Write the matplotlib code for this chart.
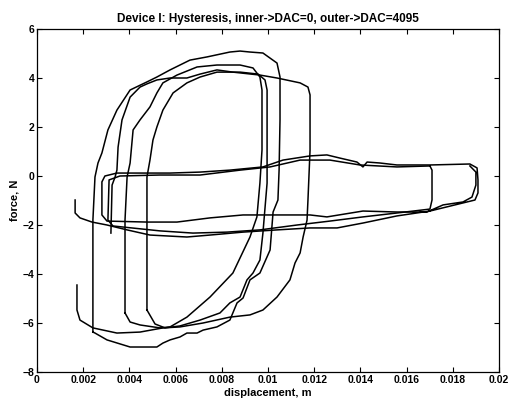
import matplotlib
matplotlib.use("Agg")
import matplotlib.pyplot as plt

plt.rcParams['font.family'] = ['Liberation Sans', 'DejaVu Sans']

# Outer runs (DAC = 4095): displacement in m, force in N
outer_x = [0.00242, 0.00242, 0.00242, 0.00242, 0.00251, 0.00264, 0.00281, 0.00307, 0.00346, 0.00403,
           0.00476, 0.00519, 0.00576, 0.00662, 0.00736, 0.00835, 0.00879, 0.00922, 0.00978, 0.01039,
           0.01052, 0.01052, 0.01048, 0.01043, 0.01022, 0.01009, 0.00965, 0.00922, 0.00892, 0.00866,
           0.00835, 0.00779, 0.00719, 0.00693, 0.00649, 0.00619, 0.00576, 0.00545, 0.00519, 0.00403,
           0.00303, 0.00251, 0.00242]
outer_y = [-6.37, -4.65, -3.02, -1.80, -0.04, 0.53, 0.94, 1.88, 2.69, 3.51,
           3.84, 4.04, 4.33, 4.73, 4.86, 5.06, 5.10, 5.06, 5.02, 4.61,
           4.04, 2.29, 0.24, -0.98, -1.47, -3.02, -3.96, -4.24, -4.98, -5.18,
           -5.88, -6.16, -6.29, -6.41, -6.41, -6.57, -6.69, -6.82, -6.98, -6.98,
           -6.69, -6.41, -6.37]

mid_x = [0.00381, 0.00381, 0.00381, 0.00390, 0.00403, 0.00416, 0.00446, 0.00489, 0.00519, 0.00545,
         0.00606, 0.00693, 0.00779, 0.00879, 0.00935, 0.00965, 0.00974, 0.00974, 0.00965, 0.00952,
         0.00922, 0.00848, 0.00749, 0.00649, 0.00576, 0.00532, 0.00446, 0.00403, 0.00381]
mid_y = [-5.59, -3.43, -1.80, -0.04, 0.53, 1.88, 2.29, 2.82, 3.39, 3.80,
         4.12, 4.45, 4.53, 4.53, 4.41, 4.04, 3.51, 1.06, -0.29, -1.67,
         -2.49, -3.96, -4.94, -5.76, -6.16, -6.20, -6.08, -5.96, -5.59]

narrow_x = [0.00476, 0.00476, 0.00476, 0.00476, 0.00489, 0.00502, 0.00519, 0.00545, 0.00589, 0.00649,
            0.00706, 0.00779, 0.00879, 0.00957, 0.00987, 0.00996, 0.00996, 0.00996, 0.00978, 0.00965,
            0.00935, 0.00909, 0.00879, 0.00835, 0.00792, 0.00706, 0.00619, 0.00554, 0.00511, 0.00476]
narrow_y = [-5.47, -3.43, -1.80, -0.04, 0.65, 1.47, 2.00, 2.69, 3.39, 3.80,
            4.04, 4.24, 4.24, 4.16, 3.92, 3.51, 1.06, -0.29, -2.33, -3.43,
            -3.96, -4.24, -4.94, -5.18, -5.59, -5.88, -6.12, -6.20, -6.04, -5.47]

start_x = [0.00173, 0.00173, 0.00186, 0.00242, 0.00346, 0.00446, 0.00545, 0.00619, 0.00719, 0.00835,
           0.00922, 0.00978, 0.01039, 0.01095, 0.01117, 0.01139, 0.01152, 0.01169, 0.01173, 0.01182,
           0.01182, 0.01173, 0.01139, 0.01039, 0.00965, 0.00848, 0.00779, 0.00706, 0.00649, 0.00576,
           0.00519, 0.00476, 0.00446, 0.00403, 0.00368, 0.00351, 0.00346, 0.00338, 0.00325, 0.00320]
start_y = [-4.45, -5.47, -5.88, -6.20, -6.41, -6.37, -6.20, -6.16, -6.00, -5.76,
           -5.67, -5.47, -4.94, -4.24, -3.55, -3.14, -2.49, -1.80, -0.98, 1.06,
           3.31, 3.63, 3.80, 4.00, 4.12, 4.24, 4.33, 4.16, 4.00, 4.00,
           3.92, 3.76, 3.63, 3.22, 2.29, 1.18, 0.24, -0.04, -0.37, -2.33]

# Inner runs (DAC = 0)
inner_x = [0.00165, 0.00165, 0.00186, 0.00238, 0.00303, 0.00390, 0.00489, 0.00649, 0.00749, 0.00892,
           0.01039, 0.01182, 0.01299, 0.01411, 0.01558, 0.01701, 0.01844, 0.01896, 0.01909, 0.01909,
           0.01905, 0.01874, 0.01701, 0.01558, 0.01485, 0.01429, 0.01411, 0.01385, 0.01312, 0.01255,
           0.01182, 0.01065, 0.00978, 0.00835, 0.00706, 0.00576, 0.00459, 0.00346, 0.00294, 0.00281,
           0.00281, 0.00303, 0.00476, 0.00606, 0.00749, 0.00892, 0.01039, 0.01182, 0.01255, 0.01411,
           0.01558, 0.01688, 0.01758, 0.01844, 0.01883, 0.01900, 0.01900, 0.01874]
inner_y = [-0.98, -1.51, -1.71, -1.88, -2.00, -2.20, -2.41, -2.49, -2.41, -2.29,
           -2.20, -2.12, -2.12, -1.92, -1.63, -1.43, -1.10, -0.98, -0.69, -0.16,
           0.33, 0.49, 0.45, 0.45, 0.53, 0.57, 0.37, 0.57, 0.73, 0.86,
           0.82, 0.65, 0.37, 0.24, 0.16, 0.12, 0.12, 0.12, 0.00, -0.24,
           -1.59, -1.84, -1.88, -1.88, -1.71, -1.59, -1.59, -1.59, -1.67, -1.43,
           -1.47, -1.47, -1.18, -1.06, -0.86, -0.37, 0.16, 0.41]

short_x = [0.01701, 0.01558, 0.01398, 0.01268, 0.01139, 0.01009, 0.00879, 0.00706, 0.00532, 0.00359,
           0.00312, 0.00307, 0.00329, 0.00532, 0.00675, 0.00823, 0.00965, 0.01126, 0.01268, 0.01411,
           0.01558, 0.01701, 0.01710, 0.01710, 0.01701]
short_y = [0.41, 0.37, 0.45, 0.65, 0.65, 0.37, 0.24, 0.04, 0.04, 0.00,
           -0.16, -1.80, -2.04, -2.24, -2.33, -2.29, -2.20, -2.00, -1.84, -1.67,
           -1.51, -1.35, -0.98, 0.24, 0.41]

x_ticks = [0, 0.002, 0.004, 0.006, 0.008, 0.01, 0.012, 0.014, 0.016, 0.018, 0.02]
x_tick_labels = ['0', '0.002', '0.004', '0.006', '0.008', '0.01', '0.012', '0.014', '0.016', '0.018', '0.02']
y_ticks = [-8, -6, -4, -2, 0, 2, 4, 6]

fig = plt.figure(figsize=(5.1, 4.05), dpi=100)
ax = fig.add_axes([37 / 510, 33 / 405, 462 / 510, 343 / 405])

runs = [(outer_x, outer_y), (mid_x, mid_y), (narrow_x, narrow_y), (start_x, start_y),
        (inner_x, inner_y), (short_x, short_y)]
for xs, ys in runs:
    ax.plot(xs, ys, color='black', linewidth=1.1, solid_joinstyle='round')

ax.set_xlim(0, 0.02)
ax.set_ylim(-8, 6)
ax.set_xticks(x_ticks)
ax.set_xticklabels(x_tick_labels)
ax.set_yticks(y_ticks)
ax.tick_params(direction='in', top=True, right=True, length=3.5, width=0.8,
               labelsize=7.5, pad=2)
for lbl in ax.get_xticklabels() + ax.get_yticklabels():
    lbl.set_fontweight('bold')
for sp in ax.spines.values():
    sp.set_linewidth(0.9)

ax.set_title('Device I: Hysteresis, inner->DAC=0, outer->DAC=4095',
             fontsize=8.5, fontweight='bold', pad=5)
ax.set_xlabel('displacement, m', fontsize=8, fontweight='bold', labelpad=2)
ax.set_ylabel('force, N', fontsize=8, fontweight='bold', labelpad=2)

fig.savefig('out.png', dpi=100)
